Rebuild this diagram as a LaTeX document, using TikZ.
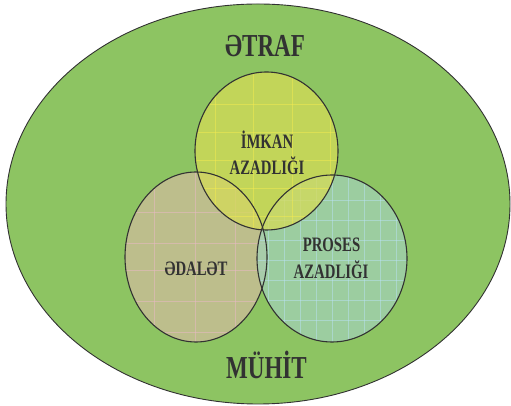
\documentclass[tikz,border=0pt]{standalone}
\usepackage{fontspec}
\newfontfamily\lbl{Liberation Serif}[FakeStretch=0.72]
\definecolor{envgreen}{RGB}{141,196,98}
\definecolor{tanc}{RGB}{189,190,140}
\definecolor{tealc}{RGB}{162,209,181}
\definecolor{yelc}{RGB}{213,219,87}
\definecolor{ink}{RGB}{50,50,50}
\definecolor{gpink}{RGB}{235,185,200}
\definecolor{gblue}{RGB}{185,225,245}
\definecolor{gyel}{RGB}{245,235,80}
\tikzset{
  zoneline/.style={draw=ink, line width=1.1pt},
  gridline/.style={line width=0.7pt, opacity=0.5},
  bigtxt/.style={text=ink, anchor=base, inner sep=0pt, font=\lbl\bfseries\fontsize{32}{34}\selectfont},
  smalltxt/.style={text=ink, anchor=base, inner sep=0pt, font=\lbl\bfseries\fontsize{20.5}{22}\selectfont},
}
\begin{document}
\begin{tikzpicture}[x=1pt,y=1pt]
\useasboundingbox (0,0) rectangle (511,406);
% environment
\fill[envgreen] (258,202) ellipse [x radius=252, y radius=200];
\draw[draw=ink, line width=0.9pt] (258,202) ellipse [x radius=252, y radius=200];
% left zone
\fill[tanc] (196,149) ellipse [x radius=71, y radius=85];
\begin{scope}
  \clip (196,149) ellipse [x radius=71, y radius=85];
  \foreach \x in {154,195,235} \draw[gridline, gpink] (\x,60) -- (\x,240);
  \foreach \y in {194,163,136,105,74} \draw[gridline, gpink] (120,\y) -- (270,\y);
\end{scope}
% right zone
\fill[tealc, fill opacity=0.75] (332,147.5) ellipse [x radius=75, y radius=83.5];
\begin{scope}
  \clip (332,147.5) ellipse [x radius=75, y radius=83.5];
  \foreach \x in {268,284,...,400} \draw[gridline, gblue] (\x,60) -- (\x,240);
  \foreach \y in {206,186,...,70} \draw[gridline, gblue] (255,\y) -- (410,\y);
\end{scope}
% top zone
\fill[yelc, fill opacity=0.75] (266.5,255) ellipse [x radius=71.5, y radius=79];
\begin{scope}
  \clip (266.5,255) ellipse [x radius=71.5, y radius=79];
  \foreach \x in {215,253,292,330} \draw[gridline, gyel] (\x,170) -- (\x,340);
  \foreach \y in {302,274,246,218,190} \draw[gridline, gyel] (190,\y) -- (345,\y);
\end{scope}
% borders
\draw[zoneline] (196,149) ellipse [x radius=71, y radius=85];
\draw[zoneline] (332,147.5) ellipse [x radius=75, y radius=83.5];
\draw[zoneline] (266.5,255) ellipse [x radius=71.5, y radius=79];
% texts
\node[bigtxt] (etraf) at (265,349) {ƏTRAF};
\node[bigtxt] (muhit) at (266.5,27.5) {MÜHİT};
\node[smalltxt] (imkan) at (267,257.5) {İMKAN};
\node[smalltxt] (imkanaz) at (267,231.5) {AZADLIĞI};
\node[smalltxt] (edalet) at (196,130) {ƏDALƏT};
\node[smalltxt] (proses) at (331.5,154) {PROSES};
\node[smalltxt] (prosesaz) at (331,127) {AZADLIĞI};
\end{tikzpicture}
\end{document}
